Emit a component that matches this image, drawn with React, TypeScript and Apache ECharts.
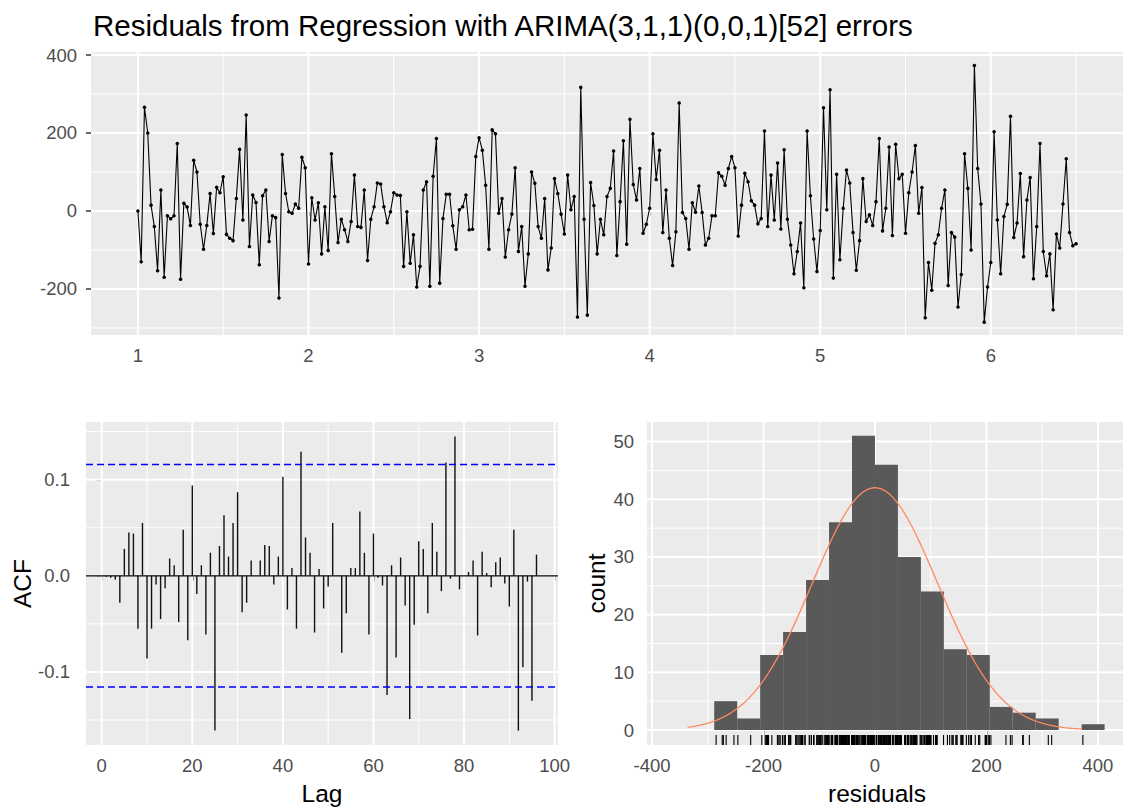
import React, { useEffect, useRef } from "react";
import * as echarts from "echarts";

// Weekly residuals (frequency 52, starting at 1)
const residuals: number[] = [
  0, -130, 266, 200, 15, -40, -153, 54, -170, -12,
  -20, -12, 173, -175, 20, 10, -37, 130, 100, -34,
  -98, -37, 45, -58, 61, 47, 88, -60, -70, -76,
  32, 158, -23, 246, -91, 41, 22, -138, 39, 54,
  -78, -12, -17, -223, 145, 45, -2, -6, 18, 7,
  138, 111, -136, 34, -23, 21, -110, 11, -101, 147,
  37, -81, -21, -48, -78, -27, 92, -40, -42, 54,
  -127, -21, 11, 72, 69, 11, -30, -2, 47, 41,
  40, -142, -2, -134, -61, -195, -142, 54, 75, -193,
  89, 186, -185, -19, 43, 43, -38, -98, 3, 11,
  41, -48, -47, 140, 188, 156, 66, -98, 208, 198,
  -6, 32, -118, -48, -8, 111, -104, -40, -193, -110,
  100, 71, -40, -70, 32, -151, -95, 83, 45, -8,
  -59, 92, 3, 37, -272, 317, -21, -267, 73, 14,
  -110, -21, -61, 37, 58, 154, -114, 24, 180, -85,
  235, 68, 28, 109, -57, -34, 7, 198, 81, 156,
  -55, 54, -70, -140, -53, 277, -4, -19, -98, 21,
  -3, 64, -4, -87, -70, -12, -12, 98, 89, 66,
  109, 140, 111, -64, 15, 97, 75, 26, 15, -33,
  -19, 205, -40, 92, -23, 123, -46, 157, -21, -87,
  -161, -104, -31, -197, 205, 39, -72, -155, -50, 265,
  3, 311, -172, 94, -125, 7, 105, 72, -55, -152,
  -76, 83, -27, -10, -37, 24, 186, -51, 7, 164,
  -63, 171, 83, 94, -57, 47, 100, 168, -6, 60,
  -274, -132, -203, -83, -61, 7, 54, -191, -55, -67,
  -246, -163, 147, 58, -100, 373, 109, 18, -285, -195,
  -132, 203, -23, -161, -14, 17, 243, -68, -31, 96,
  -117, 28, 86, -174, -40, 173, -104, -166, -110, -253,
  -59, -95, 18, 134, -55, -89, -84,
];
const seasonalPeriod = 52;
const seriesStart = 1;

// Autocorrelations for lags 1..96
const acfValues: number[] = [
  -0.001, -0.002, -0.004, -0.028, 0.028, 0.045, 0.044, -0.055, 0.055, -0.086,
  -0.055, -0.009, -0.045, -0.013, 0.018, 0.011, -0.048, 0.048, -0.067, 0.094,
  -0.019, 0.011, -0.061, 0.024, -0.161, 0.031, 0.063, 0.02, 0.055, 0.087,
  -0.038, -0.028, 0.016, 0.0, 0.016, 0.032, 0.031, -0.009, 0.02, 0.103,
  -0.035, 0.008, -0.055, 0.129, 0.04, 0.024, -0.059, 0.007, -0.034, -0.011,
  0.055, 0.0, -0.08, -0.039, 0.008, 0.008, 0.067, 0.024, -0.061, 0.044,
  -0.002, -0.01, -0.124, 0.011, -0.085, 0.019, -0.031, -0.149, -0.051, 0.036,
  0.028, -0.039, 0.055, 0.025, -0.016, 0.118, -0.003, 0.145, -0.014, 0.0,
  0.004, 0.016, -0.062, 0.025, 0.003, -0.012, 0.014, 0.019, -0.008, -0.032,
  0.048, -0.161, -0.095, -0.006, -0.13, 0.022,
];

// Histogram of residuals
const histCounts: number[] = [5, 2, 13, 17, 26, 36, 51, 46, 30, 24, 14, 13, 4, 3, 2, 0, 1];
const histStart = -288.4;
const binWidth = 41.2;
const normalMean = 0;
const normalSd = 112.3;
const curveFrom = -336;
const curveTo = 372;

// Tick values
const tsTicksX = [1, 2, 3, 4, 5, 6];
const tsMinorX = [1.5, 2.5, 3.5, 4.5, 5.5, 6.5];
const tsTicksY = [-200, 0, 200, 400];
const tsMinorY = [-300, -100, 100, 300];
const acfTicksX = [0, 20, 40, 60, 80, 100];
const acfMinorX = [10, 30, 50, 70, 90];
const acfTicksY = [-0.1, 0, 0.1];
const acfMinorY = [-0.15, -0.05, 0.05, 0.15];
const histTicksX = [-400, -200, 0, 200, 400];
const histMinorX = [-300, -100, 100, 300];
const histTicksY = [0, 10, 20, 30, 40, 50];
const histMinorY = [5, 15, 25, 35, 45];

// Axis extents
const TS_X = [0.725, 6.775];
const TS_Y = [-318, 407.7];
const ACF_X = [-3.47, 100.75];
const ACF_Y = [-0.176, 0.16];
const HIST_X = [-409, 445];
const HIST_Y = [-2.6, 53.4];

const FONT = "Liberation Sans, Arial, sans-serif";
const TICK_COLOR = "#4D4D4D";

function gridLineSeries(gi: number, xMajor: number[], xMinor: number[], yMajor: number[], yMinor: number[], xExt: number[], yExt: number[]) {
  const data = [
    ...xMajor.map((v) => [0, v, 1]),
    ...xMinor.map((v) => [0, v, 0]),
    ...yMajor.map((v) => [1, v, 1]),
    ...yMinor.map((v) => [1, v, 0]),
  ];
  return {
    type: "custom",
    xAxisIndex: gi,
    yAxisIndex: gi,
    z: 1,
    silent: true,
    data,
    renderItem: (params: any, api: any) => {
      const cs = params.coordSys;
      const dir = api.value(0);
      const v = api.value(1);
      const major = api.value(2) === 1;
      const style = { stroke: "#FFFFFF", lineWidth: major ? 2 : 1 };
      if (dir === 0) {
        const px = api.coord([v, yExt[0]])[0];
        return { type: "line", shape: { x1: px, y1: cs.y, x2: px, y2: cs.y + cs.height }, style };
      }
      const py = api.coord([xExt[0], v])[1];
      return { type: "line", shape: { x1: cs.x, y1: py, x2: cs.x + cs.width, y2: py }, style };
    },
  };
}

function axisPair(gi: number, xExt: number[], yExt: number[], xTicks: number[], yTicks: number[], yMargin: number, yFmt?: (v: number) => string) {
  const label = { fontFamily: FONT, fontSize: 18.5, color: TICK_COLOR };
  const tick = { show: true, length: 5, lineStyle: { color: "#333333", width: 1.5 } };
  const x = {
    type: "value",
    gridIndex: gi,
    min: xExt[0],
    max: xExt[1],
    axisLine: { show: false },
    splitLine: { show: false },
    axisTick: { ...tick, customValues: xTicks },
    axisLabel: { ...label, margin: 11, customValues: xTicks, showMinLabel: true, showMaxLabel: true },
  };
  const y = {
    type: "value",
    gridIndex: gi,
    min: yExt[0],
    max: yExt[1],
    axisLine: { show: false },
    splitLine: { show: false },
    axisTick: { ...tick, customValues: yTicks },
    axisLabel: {
      ...label,
      margin: yMargin,
      customValues: yTicks,
      formatter: yFmt ? (v: number) => yFmt(v) : undefined,
    },
  };
  return { x, y };
}

function normalCurve(): number[][] {
  const pts: number[][] = [];
  const n = histCounts.reduce((a, b) => a + b, 0);
  const steps = 180;
  for (let k = 0; k <= steps; k++) {
    const xv = curveFrom + ((curveTo - curveFrom) * k) / steps;
    const z = (xv - normalMean) / normalSd;
    const dens = Math.exp(-0.5 * z * z) / (normalSd * Math.sqrt(2 * Math.PI));
    pts.push([xv, n * binWidth * dens]);
  }
  return pts;
}

export default function App() {
  const ref = useRef<HTMLDivElement | null>(null);

  useEffect(() => {
    if (!ref.current) return;
    const chart = echarts.init(ref.current, undefined, { renderer: "svg" });

    const ts = axisPair(0, TS_X, TS_Y, tsTicksX, tsTicksY, 14);
    const acf = axisPair(1, ACF_X, ACF_Y, acfTicksX, acfTicksY, 16, (v) => v.toFixed(1));
    const hist = axisPair(2, HIST_X, HIST_Y, histTicksX, histTicksY, 13);

    const ci = 1.96 / Math.sqrt(residuals.length);
    const bg = { show: true, backgroundColor: "#EBEBEB", borderWidth: 0 };

    const option: any = {
      animation: false,
      backgroundColor: "#FFFFFF",
      grid: [
        { ...bg, left: 91, top: 52, width: 1040, height: 283 },
        { ...bg, left: 86, top: 422, width: 472, height: 323 },
        { ...bg, left: 647, top: 422, width: 481, height: 323 },
      ],
      xAxis: [ts.x, acf.x, hist.x],
      yAxis: [ts.y, acf.y, hist.y],
      series: [
        gridLineSeries(0, tsTicksX, tsMinorX, tsTicksY, tsMinorY, TS_X, TS_Y),
        gridLineSeries(1, acfTicksX, acfMinorX, acfTicksY, acfMinorY, ACF_X, ACF_Y),
        gridLineSeries(2, histTicksX, histMinorX, histTicksY, histMinorY, HIST_X, HIST_Y),
        {
          type: "line",
          xAxisIndex: 0,
          yAxisIndex: 0,
          z: 3,
          data: residuals.map((v, i) => [seriesStart + i / seasonalPeriod, v]),
          showSymbol: true,
          showAllSymbol: true,
          symbol: "circle",
          symbolSize: 3.5,
          itemStyle: { color: "#000000" },
          lineStyle: { color: "#000000", width: 1.1 },
          silent: true,
        },
        {
          type: "line",
          xAxisIndex: 1,
          yAxisIndex: 1,
          z: 3,
          data: [[ACF_X[0], 0], [ACF_X[1], 0]],
          showSymbol: false,
          lineStyle: { color: "#000000", width: 1.3 },
          silent: true,
        },
        {
          type: "custom",
          xAxisIndex: 1,
          yAxisIndex: 1,
          z: 3,
          silent: true,
          data: acfValues.map((v, i) => [i + 1, v]),
          renderItem: (_p: any, api: any) => {
            const a = api.coord([api.value(0), 0]);
            const b = api.coord([api.value(0), api.value(1)]);
            return {
              type: "line",
              shape: { x1: a[0], y1: a[1], x2: b[0], y2: b[1] },
              style: { stroke: "#111111", lineWidth: 1.4 },
            };
          },
        },
        ...[ci, -ci].map((c) => ({
          type: "line",
          xAxisIndex: 1,
          yAxisIndex: 1,
          z: 4,
          data: [[ACF_X[0], c], [ACF_X[1], c]],
          showSymbol: false,
          lineStyle: { color: "#0000FF", width: 1.5, type: [7, 4] },
          silent: true,
        })),
        {
          type: "custom",
          xAxisIndex: 2,
          yAxisIndex: 2,
          z: 2,
          silent: true,
          data: histCounts.map((c, k) => [histStart + k * binWidth, c]),
          renderItem: (_p: any, api: any) => {
            const x0 = api.value(0);
            const a = api.coord([x0, api.value(1)]);
            const b = api.coord([x0 + binWidth, 0]);
            return {
              type: "rect",
              shape: { x: a[0], y: a[1], width: b[0] - a[0], height: b[1] - a[1] },
              style: { fill: "#595959" },
            };
          },
        },
        {
          type: "line",
          xAxisIndex: 2,
          yAxisIndex: 2,
          z: 4,
          data: normalCurve(),
          showSymbol: false,
          lineStyle: { color: "#FF8A62", width: 1.3 },
          silent: true,
        },
        {
          type: "custom",
          xAxisIndex: 2,
          yAxisIndex: 2,
          z: 3,
          silent: true,
          data: residuals.map((v) => [v, HIST_Y[0]]),
          renderItem: (_p: any, api: any) => {
            const p = api.coord([api.value(0), HIST_Y[0]]);
            return {
              type: "line",
              shape: { x1: p[0], y1: p[1], x2: p[0], y2: p[1] - 10 },
              style: { stroke: "#000000", lineWidth: 1.1 },
            };
          },
        },
      ],
      graphic: [
        {
          type: "text",
          x: 93,
          y: 25,
          style: {
            text: "Residuals from Regression with ARIMA(3,1,1)(0,0,1)[52] errors",
            font: `29.5px ${FONT}`,
            fill: "#000000",
            textAlign: "left",
            textVerticalAlign: "middle",
          },
        },
        {
          type: "text",
          x: 322,
          y: 793,
          style: { text: "Lag", font: `24.5px ${FONT}`, fill: "#000000", textAlign: "center", textVerticalAlign: "middle" },
        },
        {
          type: "text",
          x: 877,
          y: 793,
          style: { text: "residuals", font: `24.5px ${FONT}`, fill: "#000000", textAlign: "center", textVerticalAlign: "middle" },
        },
        {
          type: "text",
          x: 22,
          y: 583.5,
          rotation: Math.PI / 2,
          style: { text: "ACF", font: `24.5px ${FONT}`, fill: "#000000", textAlign: "center", textVerticalAlign: "middle" },
        },
        {
          type: "text",
          x: 596,
          y: 583.5,
          rotation: Math.PI / 2,
          style: { text: "count", font: `24.5px ${FONT}`, fill: "#000000", textAlign: "center", textVerticalAlign: "middle" },
        },
      ],
    };

    chart.setOption(option);
    return () => chart.dispose();
  }, []);

  return (
    <div
      ref={ref}
      style={{ position: "absolute", left: 0, top: 0, width: 1123, height: 807, background: "#FFFFFF" }}
    />
  );
}
